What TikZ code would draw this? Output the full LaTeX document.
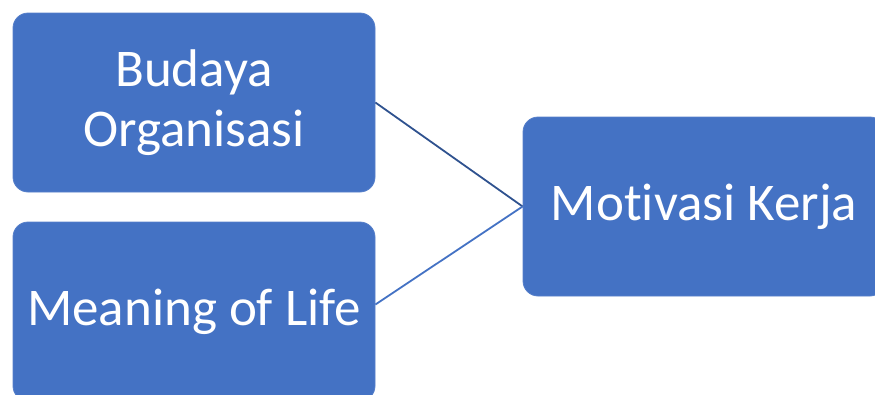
\documentclass[tikz,border=0pt]{standalone}
\usepackage{fontspec}
\setmainfont{Carlito}[Ligatures=NoCommon]
\definecolor{boxblue}{HTML}{4472C4}
\definecolor{darkline}{HTML}{2F528F}
\begin{document}
\begin{tikzpicture}[x=1pt,y=1pt,
  box/.style={rectangle, rounded corners=15pt, fill=boxblue, draw=boxblue!90!white, line width=0.8pt,
    minimum width=362pt, minimum height=179pt, inner sep=0pt, text=white, align=center,
    font=\fontsize{53}{60}\selectfont},
  link/.style={line width=1.8pt}]
\useasboundingbox (0,0) rectangle (875,-394);
\clip (0,0) rectangle (875,-394);
\node[box] (budaya) at (194,-102.5) {Budaya\\Organisasi};
\node[box] (meaning) at (194,-311.5) {Meaning of Life};
\node[box] (motivasi) at (704,-206.5) {Motivasi Kerja};
\draw[link, darkline] (budaya.east) -- (motivasi.west);
\draw[link, boxblue] ([yshift=7pt]meaning.east) -- (motivasi.west);
\end{tikzpicture}
\end{document}
